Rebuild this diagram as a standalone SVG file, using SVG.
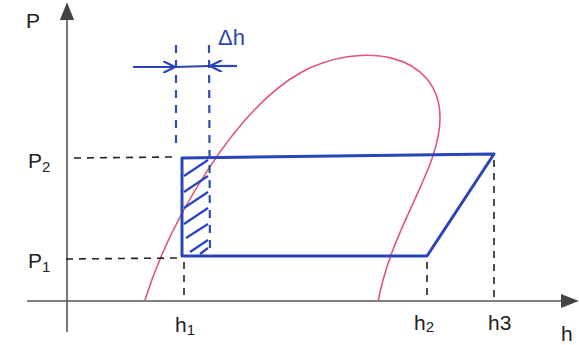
<svg xmlns="http://www.w3.org/2000/svg" width="579" height="345" viewBox="0 0 579 345">
<style>
.axis{stroke:#555;stroke-width:1.6;fill:none}
.dash{stroke:#222;stroke-width:1.6;stroke-dasharray:7 6;fill:none}
.bdash{stroke:#2f4fb0;stroke-width:2.2;stroke-dasharray:8 7;fill:none}
.blue{stroke:#2a45b5;stroke-width:3;fill:none;stroke-linejoin:round}
.hatch{stroke:#2a45b5;stroke-width:2.2;fill:none}
.red{stroke:#e0567a;stroke-width:1.6;fill:none}
.lbl{font-family:"Liberation Sans","DejaVu Sans",sans-serif;font-size:21px;fill:#222}
.blbl{font-family:"Liberation Sans","DejaVu Sans",sans-serif;font-size:22px;fill:#2a45b5}
</style>
<defs>
<marker id="bh" viewBox="0 0 10 10" refX="10" refY="5" markerWidth="12" markerHeight="12" orient="auto" markerUnits="userSpaceOnUse">
<path d="M0,0 L10,5 L0,10" fill="none" stroke="#2a45b5" stroke-width="1.8"/>
</marker>
<marker id="big" viewBox="0 0 10 10" refX="9" refY="5" markerWidth="18" markerHeight="18" orient="auto" markerUnits="userSpaceOnUse">
<path d="M0,1 L10,5 L0,9 z" fill="#444"/>
</marker>
</defs>
<g id="axes">
<line class="axis" x1="67" y1="332" x2="67" y2="4" marker-end="url(#big)"/>
<line class="axis" x1="27" y1="301" x2="577" y2="301" marker-end="url(#big)"/>
</g>
<g id="labels">
<text class="lbl" x="26" y="28">P</text>
<text class="lbl" x="28" y="168">P<tspan font-size="15" dy="4">2</tspan></text>
<text class="lbl" x="28" y="268">P<tspan font-size="15" dy="4">1</tspan></text>
<text class="lbl" x="175" y="332">h<tspan font-size="15" dy="3">1</tspan></text>
<text class="lbl" x="414" y="330">h<tspan font-size="15" dy="2">2</tspan></text>
<text class="lbl" x="488" y="330">h3</text>
<text class="lbl" x="561" y="341">h</text>
<text class="blbl" x="218" y="45">Δh</text>
</g>
<g id="dome">
<path class="red" d="M145,300 C170,220 235,110 300,73 C360,40 440,52 440,118 C440,170 392,225 378,302"/>
</g>
<g id="cycle">
<path class="blue" d="M182,158 L494,154 L427,256 L182,256 Z"/>
<g id="hatching">
<line class="hatch" x1="184" y1="176" x2="208" y2="160"/>
<line class="hatch" x1="184" y1="192" x2="208" y2="176"/>
<line class="hatch" x1="184" y1="208" x2="208" y2="192"/>
<line class="hatch" x1="184" y1="224" x2="208" y2="208"/>
<line class="hatch" x1="186" y1="238" x2="208" y2="224"/>
<line class="hatch" x1="190" y1="252" x2="208" y2="240"/>
<line class="hatch" x1="200" y1="254" x2="208" y2="248"/>
</g>
</g>
<g id="connectors">
<line class="dash" x1="74" y1="158" x2="172" y2="157"/>
<line class="dash" x1="66" y1="259" x2="178" y2="258"/>
<line class="dash" x1="184" y1="262" x2="184" y2="300"/>
<line class="dash" x1="427" y1="262" x2="427" y2="300"/>
<line class="dash" x1="494" y1="160" x2="494" y2="300"/>
<line class="bdash" x1="176" y1="45" x2="176" y2="148"/>
<line class="bdash" x1="209" y1="45" x2="210" y2="256"/>
<line stroke="#2a45b5" stroke-width="2.2" x1="133" y1="67" x2="175" y2="67" marker-end="url(#bh)"/>
<line stroke="#2a45b5" stroke-width="2.2" x1="237" y1="66" x2="210" y2="66" marker-end="url(#bh)"/>
<line stroke="#2a45b5" stroke-width="2.2" x1="175" y1="67" x2="210" y2="66"/>
</g>
</svg>
